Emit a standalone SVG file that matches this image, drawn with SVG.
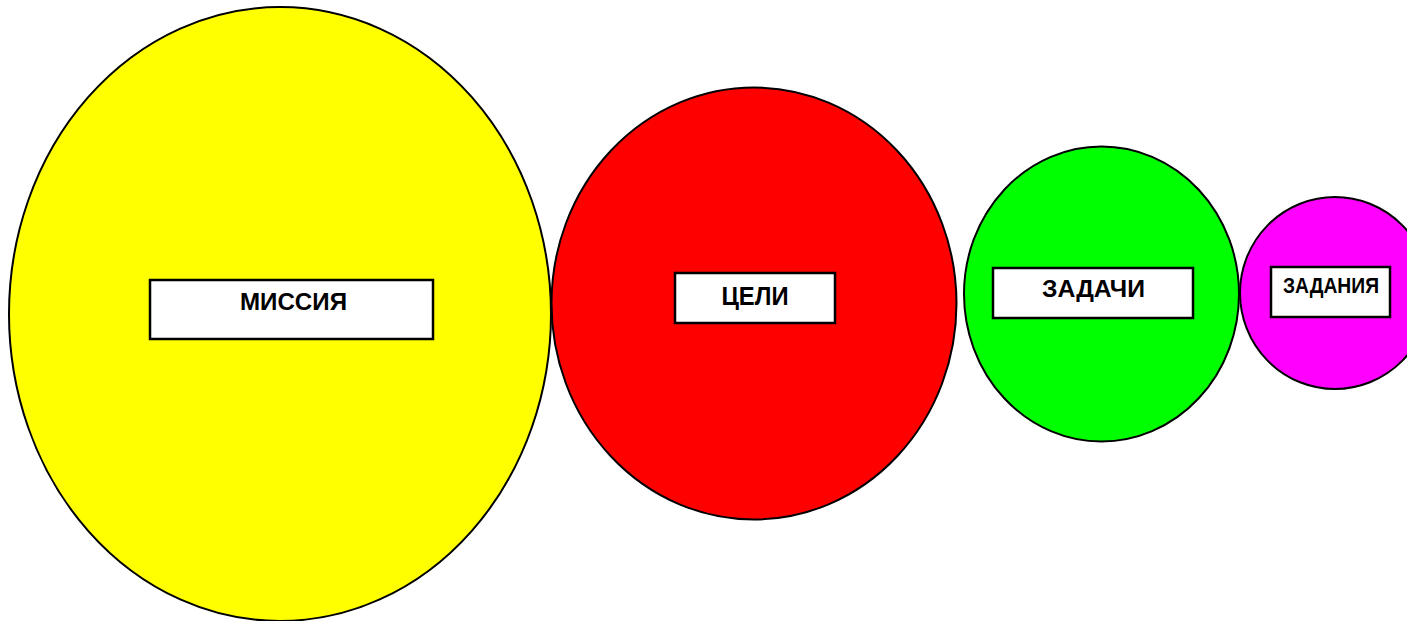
<svg xmlns="http://www.w3.org/2000/svg" width="1407" height="621" viewBox="0 0 1407 621">
<style>
.c{stroke:#000;stroke-width:2}
.b{fill:#fff;stroke:#000;stroke-width:2.5}
.t{font-family:"Liberation Sans",Arial,sans-serif;font-weight:bold;fill:#000;text-anchor:middle}
</style>
<rect width="1407" height="621" fill="#fff"/>
<g id="connectors"/>
<g id="missiya">
<ellipse class="c" cx="280" cy="314" rx="271" ry="307" fill="#FFFF00"/>
<rect class="b" x="150" y="280" width="283" height="59"/>
<text class="t" x="293.5" y="310" font-size="23" textLength="107" lengthAdjust="spacingAndGlyphs">МИССИЯ</text>
</g>
<g id="tseli">
<ellipse class="c" cx="754" cy="303.5" rx="202.5" ry="216" fill="#FF0000"/>
<rect class="b" x="675" y="273" width="160" height="50"/>
<text class="t" x="755" y="305" font-size="25" textLength="67" lengthAdjust="spacingAndGlyphs">ЦЕЛИ</text>
</g>
<g id="zadachi">
<ellipse class="c" cx="1101.5" cy="294" rx="137.5" ry="147.5" fill="#00FF00"/>
<rect class="b" x="993" y="268" width="200" height="50"/>
<text class="t" x="1093.5" y="297" font-size="24" textLength="103" lengthAdjust="spacingAndGlyphs">ЗАДАЧИ</text>
</g>
<g id="zadaniya">
<ellipse class="c" cx="1335" cy="293" rx="95" ry="96" fill="#FF00FF"/>
<rect class="b" x="1271" y="267" width="119" height="50"/>
<text class="t" x="1331" y="293" font-size="22" textLength="96" lengthAdjust="spacingAndGlyphs">ЗАДАНИЯ</text>
</g>
</svg>
